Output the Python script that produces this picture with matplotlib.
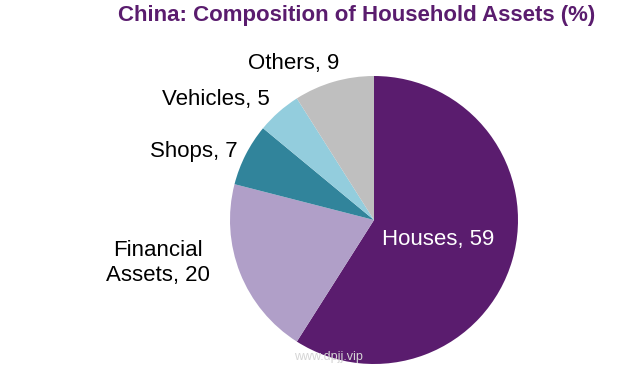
import matplotlib
matplotlib.use("Agg")

import matplotlib.pyplot as plt

labels = ["Houses", "Financial Assets", "Shops", "Vehicles", "Others"]
values = [59, 20, 7, 5, 9]
colors = ["#5A1C6E", "#B09FC8", "#31849B", "#93CDDD", "#BFBFBF"]

plt.rcParams["font.family"] = ["Liberation Sans", "DejaVu Sans"]

fig = plt.figure(figsize=(6.27, 3.8), dpi=100)
ax = fig.add_axes([0, 0, 1, 1])
ax.axis("off")

# pie in pixel coordinates (y measured from bottom)
ax.pie(values, colors=colors, startangle=90, counterclock=False,
       center=(374, 160), radius=144, wedgeprops=dict(linewidth=0))
ax.set_xlim(0, 627)
ax.set_ylim(0, 380)
ax.set_aspect("equal")

fs = 16
ax.text(438, 140, "Houses, 59", color="white", fontsize=fs, ha="center", va="center")
ax.text(158, 117, "Financial\nAssets, 20", color="black", fontsize=fs,
        ha="center", va="center", linespacing=1.2)
ax.text(194, 228, "Shops, 7", color="black", fontsize=fs, ha="center", va="center")
ax.text(216, 281, "Vehicles, 5", color="black", fontsize=fs, ha="center", va="center")
ax.text(294, 316, "Others, 9", color="black", fontsize=fs, ha="center", va="center")

ax.text(357, 365, "China: Composition of Household Assets (%)", color="#5A1C6E",
        fontsize=16, fontweight="bold", ha="center", va="center")

ax.text(328, 23, "www.dpjj.vip", color="#D5D5D5", fontsize=9, ha="center", va="center")

fig.savefig("out.png", dpi=100)
plt.close(fig)
